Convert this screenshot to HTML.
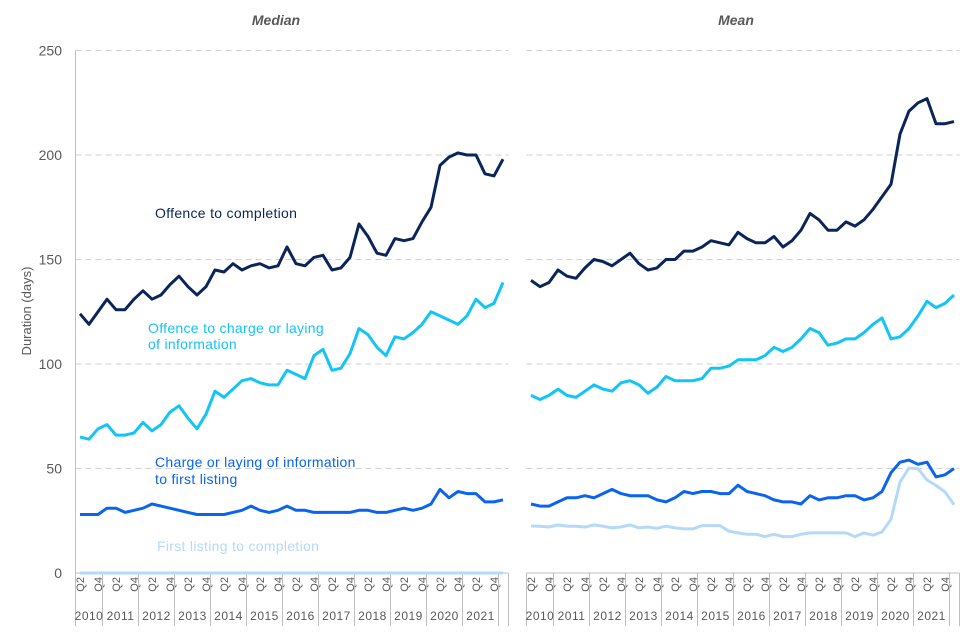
<!DOCTYPE html>
<html><head><meta charset="utf-8"><style>
body{margin:0;background:#fff;}
svg{display:block;font-family:"Liberation Sans",Arial,sans-serif;}
</style></head><body>
<svg id="chart" width="960" height="640" viewBox="0 0 960 640" xmlns="http://www.w3.org/2000/svg">
<text x="276" y="25" text-anchor="middle" font-size="14" font-weight="bold" font-style="italic" fill="#595959">Median</text>
<text x="736" y="25" text-anchor="middle" font-size="14" font-weight="bold" font-style="italic" fill="#595959">Mean</text>
<text transform="translate(31,311) rotate(-90)" text-anchor="middle" font-size="13" fill="#595959">Duration (days)</text>
<g id="grid"></g><g id="axes"></g><g id="lines"></g>
<text x="155" y="218" font-size="14" letter-spacing="0.3" fill="#0b2559">Offence to completion</text>
<text font-size="14" letter-spacing="0.3" fill="#13c5f5"><tspan x="148" y="333">Offence to charge or laying</tspan><tspan x="148" y="349">of information</tspan></text>
<text font-size="14" letter-spacing="0.3" fill="#0a64f0"><tspan x="155" y="467">Charge or laying of information</tspan><tspan x="155" y="484">to first listing</tspan></text>
<text x="157" y="551" font-size="14" letter-spacing="0.3" fill="#b5d9fb">First listing to completion</text>
</svg>
<script>
const yTicks=[0,50,100,150,200,250];
const years=["2010","2011","2012","2013","2014","2015","2016","2017","2018","2019","2020","2021"];
const medOffComp=[124,119,125,131,126,126,131,135,131,133,138,142,137,133,137,145,144,148,145,147,148,146,147,156,148,147,151,152,145,146,151,167,161,153,152,160,159,160,168,175,195,199,201,200,200,191,190,198];
const medOffCharge=[65,64,69,71,66,66,67,72,68,71,77,80,74,69,76,87,84,88,92,93,91,90,90,97,95,93,104,107,97,98,105,117,114,108,104,113,112,115,119,125,123,121,119,123,131,127,129,139];
const medChargeList=[28,28,28,31,31,29,30,31,33,32,31,30,29,28,28,28,28,29,30,32,30,29,30,32,30,30,29,29,29,29,29,30,30,29,29,30,31,30,31,33,40,36,39,38,38,34,34,35];
const medListComp=[0,0,0,0,0,0,0,0,0,0,0,0,0,0,0,0,0,0,0,0,0,0,0,0,0,0,0,0,0,0,0,0,0,0,0,0,0,0,0,0,0,0,0,0,0,0,0,0];
const meanOffComp=[140,137,139,145,142,141,146,150,149,147,150,153,148,145,146,150,150,154,154,156,159,158,157,163,160,158,158,161,156,159,164,172,169,164,164,168,166,169,174,180,186,210,221,225,227,215,215,216];
const meanOffCharge=[85,83,85,88,85,84,87,90,88,87,91,92,90,86,89,94,92,92,92,93,98,98,99,102,102,102,104,108,106,108,112,117,115,109,110,112,112,115,119,122,112,113,117,123,130,127,129,133];
const meanChargeList=[33,32,32,34,36,36,37,36,38,40,38,37,37,37,35,34,36,39,38,39,39,38,38,42,39,38,37,35,34,34,33,37,35,36,36,37,37,35,36,39,48,53,54,52,53,46,47,50];
const meanListComp=[22.5,22.4,22,23,22.4,22.4,22,23,22.4,21.6,22,23,21.6,22,21.4,22.4,21.6,21.1,21.1,22.7,22.7,22.7,20,19.2,18.5,18.5,17.4,18.5,17.4,17.4,18.5,19.2,19.2,19.2,19.2,19.2,17.4,19.2,18.1,19.6,25.7,43.5,50.2,49.9,44.5,41.9,38.8,32.7];

const NS="http://www.w3.org/2000/svg";
const Y0=573,Y1=50.5,YMAX=250,BAND=9,NQ=48;
const y=v=>Y0-(v/YMAX)*(Y0-Y1);
const panels=[{x0:75.5,name:"median"},{x0:526.5,name:"mean"}];
const xOf=(p,i)=>p.x0+4.5+BAND*i;
function el(tag,attrs,parent){const e=document.createElementNS(NS,tag);for(const k in attrs)e.setAttribute(k,attrs[k]);parent.appendChild(e);return e;}
const grid=document.getElementById('grid'),axes=document.getElementById('axes'),lines=document.getElementById('lines');
panels.forEach((p,pi)=>{
  const xEnd=p.x0+BAND*NQ+1;
  yTicks.forEach(t=>{
    if(t>0){const g=el('line',{x1:p.x0,x2:xEnd,y1:y(t),y2:y(t),stroke:'#d0d0d0','stroke-dasharray':'6,4','stroke-width':1},grid);
      
      }
    if(pi===0){const tx=el('text',{x:62,y:y(t)+5,'text-anchor':'end','font-size':14,fill:'#595959'},axes);tx.textContent=t;
      
      }
  });
  if(pi===0){const a=el('line',{x1:p.x0,x2:p.x0,y1:Y1,y2:Y0,stroke:'#bfbfbf'},axes);
    
    }
  const xa=el('line',{x1:p.x0,x2:xEnd,y1:Y0,y2:Y0,stroke:'#bfbfbf'},axes);
  
  
  for(let i=0;i<NQ;i++){
    const q=((i+1)%4)+1;
    if(q===2||q===4){
      const cx=xOf(p,i);
      const t=el('text',{transform:`translate(${cx+4},${Y0+4}) rotate(-90)`,'text-anchor':'end','font-size':11,fill:'#595959'},axes);
      t.textContent='Q'+q;
      
      
    }
  }
  const st=el('line',{x1:p.x0,x2:p.x0,y1:Y0,y2:626,stroke:'#bfbfbf'},axes);
  
  
  years.forEach((yr,k)=>{
    const s=k===0?0:3+4*(k-1), e=3+4*k;
    const xs=p.x0+BAND*s, xe=p.x0+BAND*e;
    const sep=el('line',{x1:xe,x2:xe,y1:Y0,y2:626,stroke:'#bfbfbf'},axes);
    
    
    const t=el('text',{x:(xs+xe)/2,y:620,'text-anchor':'middle','font-size':12,'letter-spacing':'0.5',fill:'#595959'},axes);
    t.textContent=yr;
    
    
  });
  const endSep=el('line',{x1:xEnd,x2:xEnd,y1:Y0,y2:626,stroke:'#bfbfbf'},axes);
  
  
});
const series=[
 [0,medListComp,'#b5d9fb','median-first-listing-to-completion'],
 [0,medChargeList,'#0a64f0','median-charge-to-first-listing'],
 [0,medOffCharge,'#13c5f5','median-offence-to-charge'],
 [0,medOffComp,'#0b2559','median-offence-to-completion'],
 [1,meanListComp,'#b5d9fb','mean-first-listing-to-completion'],
 [1,meanChargeList,'#0a64f0','mean-charge-to-first-listing'],
 [1,meanOffCharge,'#13c5f5','mean-offence-to-charge'],
 [1,meanOffComp,'#0b2559','mean-offence-to-completion']];
series.forEach(([pi,data,col,name])=>{
  const p=panels[pi];
  const pts=data.map((v,i)=>xOf(p,i).toFixed(1)+','+y(v).toFixed(1)).join(' ');
  const pl=el('polyline',{points:pts,fill:'none',stroke:col,'stroke-width':3,'stroke-linejoin':'round'},lines);
  
  
});
</script>
</body></html>
